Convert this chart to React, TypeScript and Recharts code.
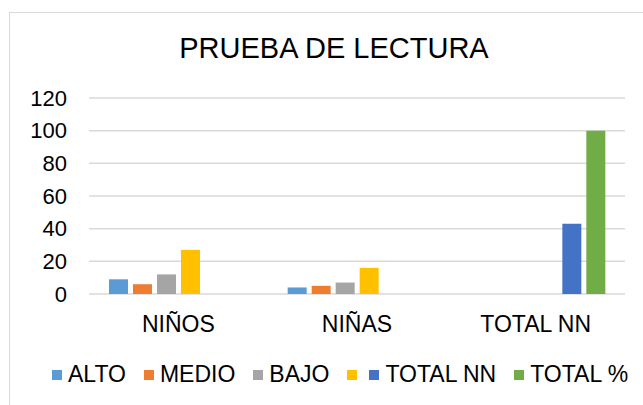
import React from 'react';
import { BarChart, Bar, XAxis, YAxis, CartesianGrid } from 'recharts';

const categories = ['NIÑOS', 'NIÑAS', 'TOTAL NN'];
const alto = [9, 4, 0];
const medio = [6, 5, 0];
const bajo = [12, 7, 0];
const subtotal = [27, 16, 0];
const totalNN = [0, 0, 43];
const totalPct = [0, 0, 100];
const yTicks = [0, 20, 40, 60, 80, 100, 120];

const series = [
  { key: 'alto', name: 'ALTO', color: '#5b9bd5', values: alto },
  { key: 'medio', name: 'MEDIO', color: '#ed7d31', values: medio },
  { key: 'bajo', name: 'BAJO', color: '#a5a5a5', values: bajo },
  { key: 'subtotal', name: '', color: '#ffc000', values: subtotal },
  { key: 'totalNN', name: 'TOTAL NN', color: '#4472c4', values: totalNN },
  { key: 'totalPct', name: 'TOTAL %', color: '#70ad47', values: totalPct },
];

const data = categories.map((cat, i) => {
  const row: Record<string, string | number> = { cat };
  series.forEach((s) => {
    row[s.key] = s.values[i];
  });
  return row;
});

const font = '"Liberation Sans", Arial, sans-serif';

export default function App() {
  return (
    <div
      style={{
        position: 'absolute',
        left: 0,
        top: 0,
        width: 643,
        height: 405,
        overflow: 'hidden',
        background: '#fff',
        fontFamily: font,
      }}
    >
      <div
        style={{
          position: 'absolute',
          left: 9,
          top: 12,
          width: 700,
          height: 450,
          border: '1px solid #d9d9d9',
        }}
      />
      <div
        style={{
          position: 'absolute',
          left: 0,
          top: 32,
          width: 668,
          textAlign: 'center',
          fontSize: 29,
          color: '#000',
        }}
      >
        PRUEBA DE LECTURA
      </div>
      <div style={{ position: 'absolute', left: 0, top: 0 }}>
        <BarChart
          width={643}
          height={405}
          data={data}
          margin={{ top: 98, right: 18, left: 0, bottom: 81 }}
          barSize={19}
          barGap={5}
        >
          <CartesianGrid vertical={false} stroke="#d9d9d9" strokeWidth={1.5} />
          <XAxis
            dataKey="cat"
            axisLine={false}
            tickLine={false}
            tickSize={0}
            tickMargin={22}
            height={30}
            interval={0}
            tick={{ fontSize: 23, fill: '#000', fontFamily: font }}
          />
          <YAxis
            domain={[0, 120]}
            ticks={yTicks}
            axisLine={false}
            tickLine={false}
            tickSize={0}
            tickMargin={22}
            width={89}
            tick={{ fontSize: 22, fill: '#000', fontFamily: font }}
          />
          {series.map((s) => (
            <Bar
              key={s.key}
              dataKey={s.key}
              name={s.name}
              fill={s.color}
              isAnimationActive={false}
            />
          ))}
        </BarChart>
      </div>
      <div
        style={{
          position: 'absolute',
          left: 52,
          top: 361,
          display: 'flex',
          alignItems: 'center',
          fontSize: 23,
          color: '#000',
          whiteSpace: 'nowrap',
        }}
      >
        {series.map((s) => (
          <div
            key={s.key}
            style={{ display: 'flex', alignItems: 'center', marginRight: s.name ? 18 : 12 }}
          >
            <span
              style={{
                display: 'inline-block',
                width: 10,
                height: 10,
                background: s.color,
                marginRight: s.name ? 6 : 0,
              }}
            />
            {s.name && <span>{s.name}</span>}
          </div>
        ))}
      </div>
    </div>
  );
}
